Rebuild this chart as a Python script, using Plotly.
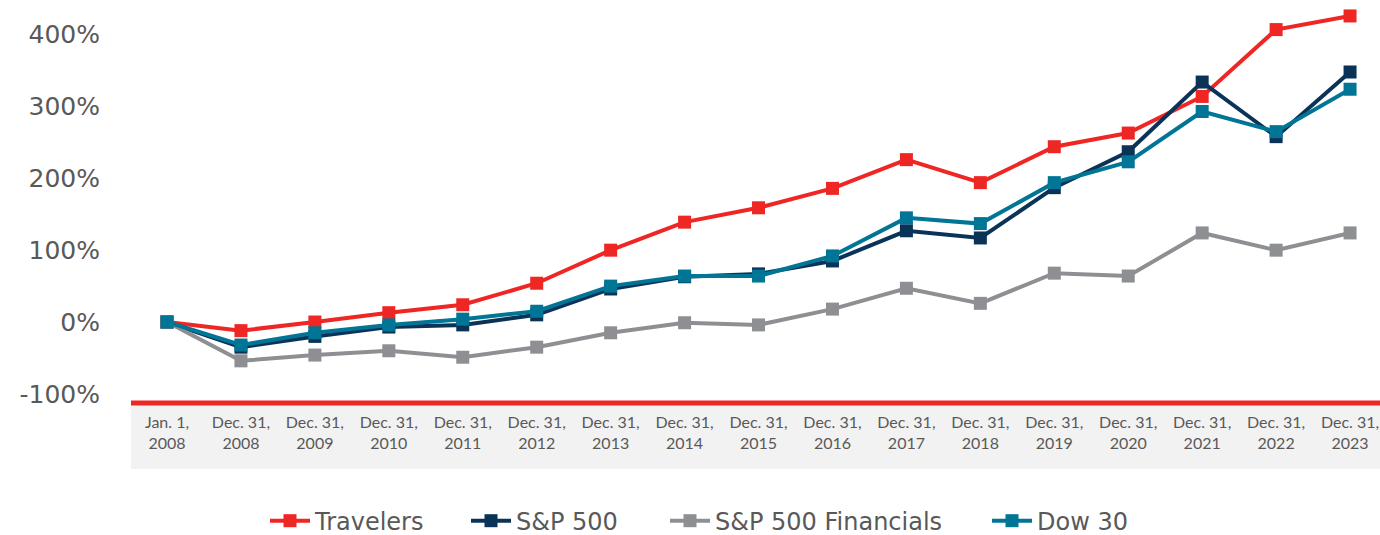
import plotly.graph_objects as go

categories = ["Jan. 1,<br>2008", "Dec. 31,<br>2008", "Dec. 31,<br>2009", "Dec. 31,<br>2010",
              "Dec. 31,<br>2011", "Dec. 31,<br>2012", "Dec. 31,<br>2013", "Dec. 31,<br>2014",
              "Dec. 31,<br>2015", "Dec. 31,<br>2016", "Dec. 31,<br>2017", "Dec. 31,<br>2018",
              "Dec. 31,<br>2019", "Dec. 31,<br>2020", "Dec. 31,<br>2021", "Dec. 31,<br>2022",
              "Dec. 31,<br>2023"]

travelers = [0, -12, 0, 13, 24, 54, 100, 139, 159, 186, 226, 194, 244, 263, 314, 407, 426]
sp500 = [0, -35, -20, -7, -4, 10, 46, 63, 67, 85, 127, 117, 187, 237, 334, 258, 348]
sp500_fin = [0, -54, -46, -40, -49, -35, -15, -1, -4, 18, 47, 26, 68, 64, 124, 100, 124]
dow30 = [0, -32, -15, -4, 4, 15, 50, 64, 64, 92, 145, 137, 194, 223, 293, 265, 324]

y_tickvals = [-100, 0, 100, 200, 300, 400]
y_ticktext = ["-100%", "0%", "100%", "200%", "300%", "400%"]

series_names = ["Travelers", "S&P 500", "S&P 500 Financials", "Dow 30"]
series_values = [travelers, sp500, sp500_fin, dow30]
series_colors = ["#EE2624", "#0B3358", "#8E8F93", "#007596"]

W, H = 1380, 535
legend_ids = ["legend", "legend2", "legend3", "legend4"]
legend_left_px = [265, 466, 665, 987]

fig = go.Figure()
for name, vals, color, lid in zip(series_names, series_values, series_colors, legend_ids):
    fig.add_trace(go.Scatter(
        x=categories, y=vals, name=name, mode="lines+markers",
        line=dict(color=color, width=4),
        marker=dict(symbol="square", size=13, color=color),
        legend=lid,
    ))

# grey band under the axis and red axis line
fig.add_shape(type="rect", xref="paper", yref="paper", x0=0, x1=1,
              y0=-0.164, y1=0, fillcolor="#F2F2F2", line_width=0, layer="below")
fig.add_shape(type="line", xref="paper", yref="paper", x0=0, x1=1, y0=0, y1=0,
              line=dict(color="#EE2624", width=5))

legend_common = dict(orientation="h", xref="container", yref="container",
                     xanchor="left", y=0.026, yanchor="middle",
                     font=dict(family="DejaVu Sans", size=24, color="#595959"),
                     itemwidth=40, bgcolor="rgba(0,0,0,0)")
legends = {}
for lid, px in zip(legend_ids, legend_left_px):
    legends[lid] = dict(legend_common, x=px / W)

fig.update_layout(
    width=W, height=H,
    margin=dict(l=131, r=0, t=0, b=132),
    paper_bgcolor="white", plot_bgcolor="white",
    showlegend=True,
    xaxis=dict(type="category", range=[-0.487, 16.405], showgrid=False,
               zeroline=False, showline=False, ticks="",
               tickfont=dict(family="Lato", size=16, color="#595959"),
               ticklabelstandoff=8),
    yaxis=dict(range=[-112.7, 448.2], showgrid=False, zeroline=False, showline=False,
               tickvals=y_tickvals, ticktext=y_ticktext, ticks="",
               tickfont=dict(family="DejaVu Sans", size=25, color="#595959"),
               ticklabelstandoff=30),
    **legends,
)

fig.write_html("out.html", config={"displayModeBar": False},
               post_script="document.body.style.margin='0';document.body.style.overflow='hidden';")
